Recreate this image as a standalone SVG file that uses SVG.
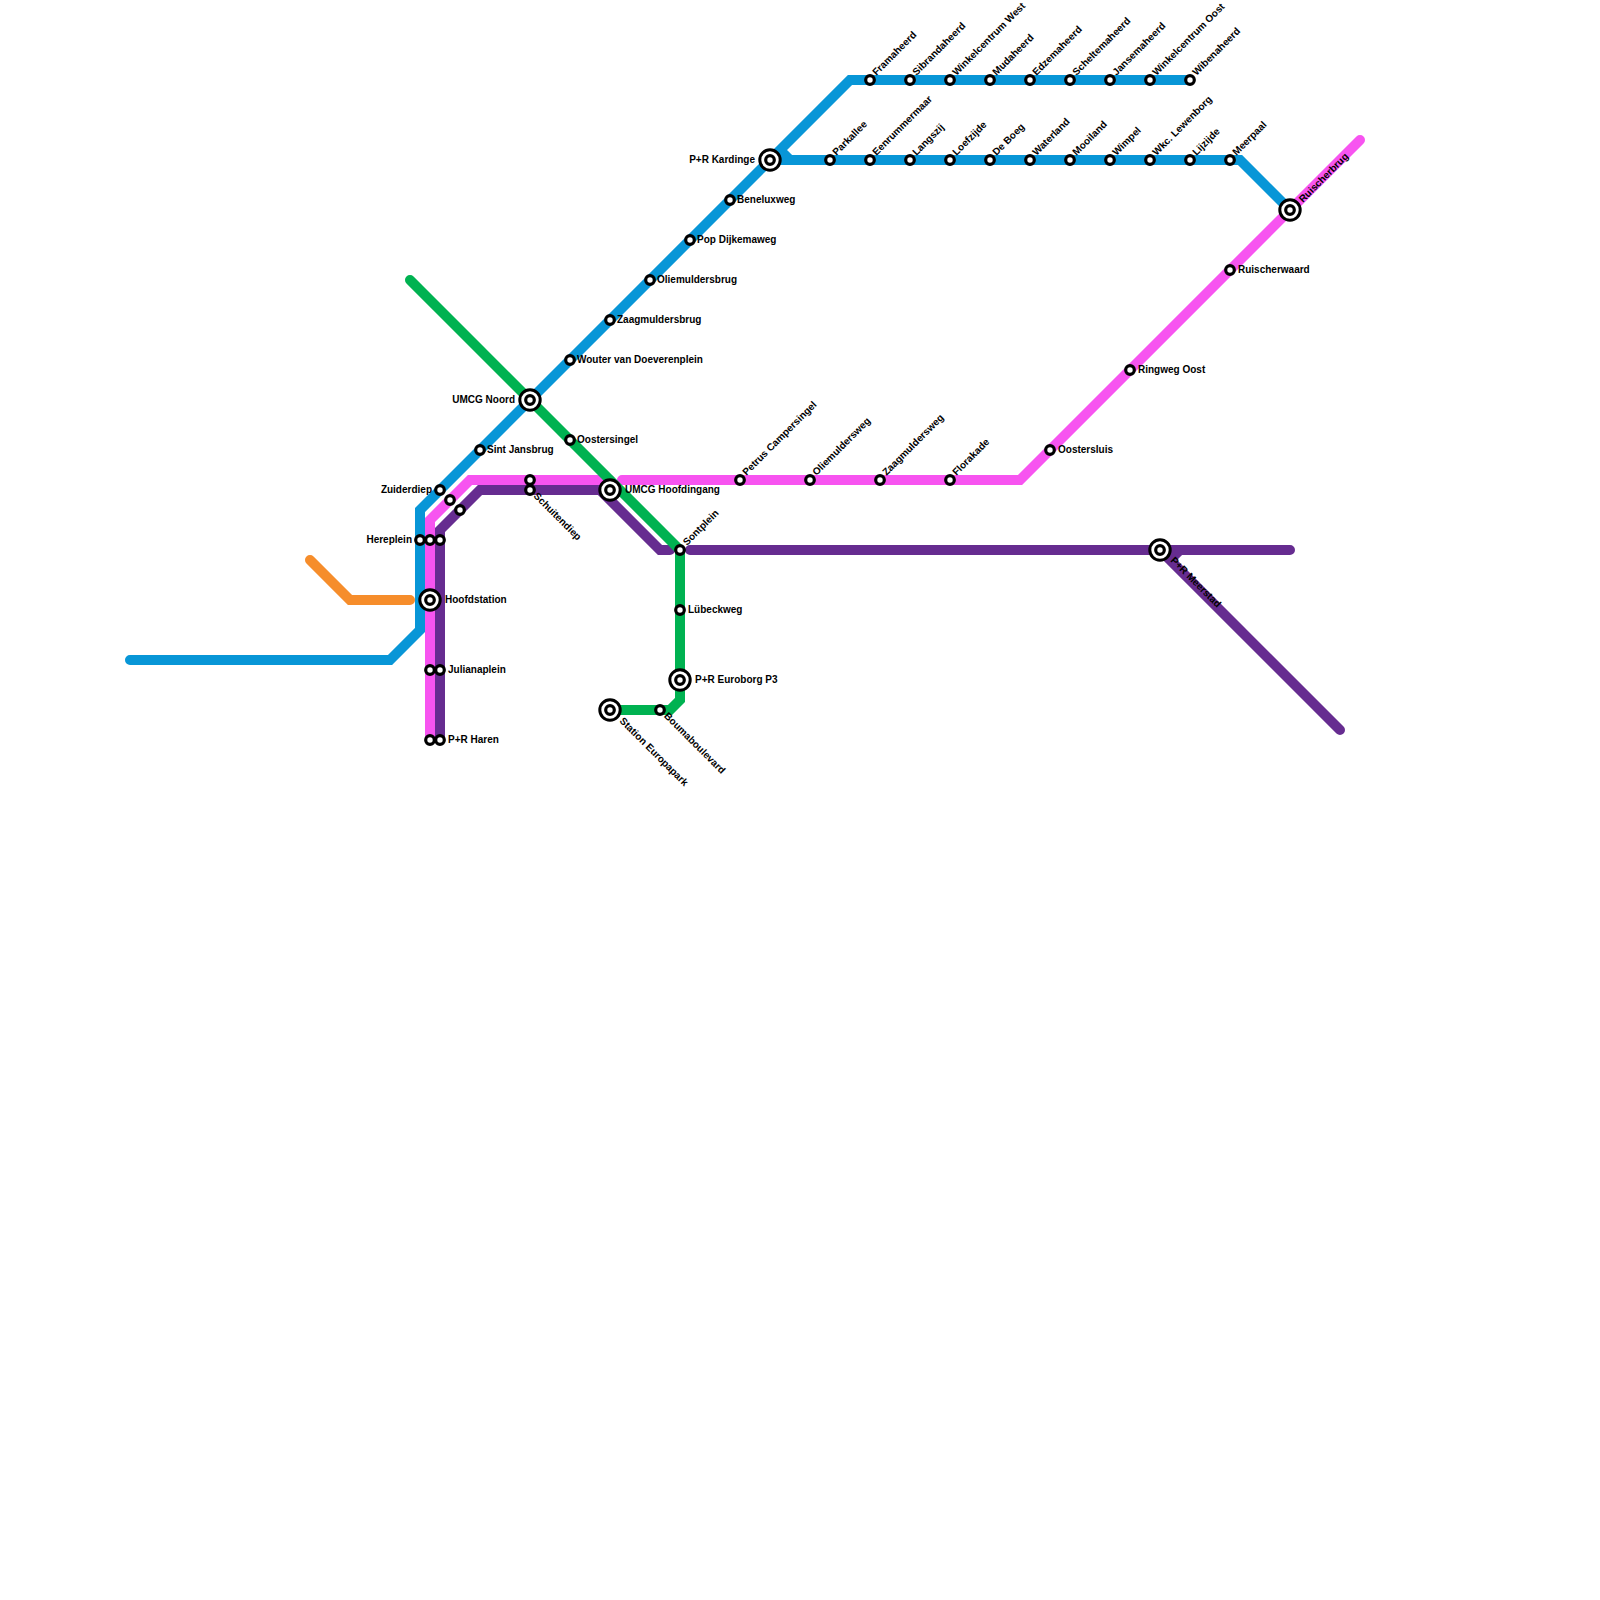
<svg xmlns="http://www.w3.org/2000/svg" width="1600" height="1600" viewBox="0 0 1600 1600">
<style>
text{font-family:"Liberation Sans",Arial,sans-serif;font-size:10px;font-weight:bold;fill:#000}
.e{text-anchor:end}
.l{fill:none;stroke-width:10;stroke-linecap:round;stroke-linejoin:miter}
.o{fill:#fff;stroke:#000}
</style>
<defs>
<g id="s"><circle class="o" r="4.3" stroke-width="3.2"/></g>
<g id="b"><circle class="o" r="10.2" stroke-width="3"/><circle class="o" r="4.3" stroke-width="3.2"/></g>
</defs>
<rect width="1600" height="1600" fill="#fff"/>
<g id="connectors">
<path class="l" stroke="#f68d2b" d="M310 560L350 600H410"/>
<path class="l" stroke="#f754f0" d="M430 740V520L470 480H610M622 480H1020L1360 140"/>
<path class="l" stroke="#662c90" d="M440 740V530L480 490H600L660 550H670M690 550H1290M1340 730L1170 560L1180 550"/>
<path class="l" stroke="#00b251" d="M410 280L680 550V700L670 710H610"/>
<path class="l" stroke="#0896d7" d="M130 660H390L420 630V510L770 160L850 80H1190M790 160L780 150M770 160H1240L1290 210"/>
</g>
<g id="n1"><use href="#b" x="770" y="160"/><text class="e" x="755" y="162.6">P+R Kardinge</text></g>
<g id="n2"><use href="#s" x="730" y="200"/><text x="737" y="202.6">Beneluxweg</text></g>
<g id="n3"><use href="#s" x="690" y="240"/><text x="697" y="242.6">Pop Dijkemaweg</text></g>
<g id="n4"><use href="#s" x="650" y="280"/><text x="657" y="282.6">Oliemuldersbrug</text></g>
<g id="n5"><use href="#s" x="610" y="320"/><text x="617" y="322.6">Zaagmuldersbrug</text></g>
<g id="n6"><use href="#s" x="570" y="360"/><text x="577" y="362.6">Wouter van Doeverenplein</text></g>
<g id="n7"><use href="#b" x="530" y="400"/><text class="e" x="515" y="402.6">UMCG Noord</text></g>
<g id="n8"><use href="#s" x="570" y="440"/><text x="577" y="442.6">Oostersingel</text></g>
<g id="n9"><use href="#s" x="480" y="450"/><text x="487" y="452.6">Sint Jansbrug</text></g>
<g id="n10"><use href="#s" x="440" y="490"/><text class="e" x="432" y="492.6">Zuiderdiep</text></g>
<g id="n11"><use href="#s" x="450" y="500"/></g>
<g id="n12"><use href="#s" x="460" y="510"/></g>
<g id="n13"><use href="#s" x="420" y="540"/><use href="#s" x="430" y="540"/><use href="#s" x="440" y="540"/><text class="e" x="412" y="542.6">Hereplein</text></g>
<g id="n14"><use href="#b" x="430" y="600"/><text x="445" y="602.6">Hoofdstation</text></g>
<g id="n15"><use href="#s" x="430" y="670"/><use href="#s" x="440" y="670"/><text x="448" y="672.6">Julianaplein</text></g>
<g id="n16"><use href="#s" x="430" y="740"/><use href="#s" x="440" y="740"/><text x="448" y="742.6">P+R Haren</text></g>
<g id="n17"><use href="#s" x="530" y="480"/><use href="#s" x="530" y="490"/><text transform="translate(533 496.5) rotate(45)">Schuitendiep</text></g>
<g id="n18"><use href="#b" x="610" y="490"/><text x="625" y="492.6">UMCG Hoofdingang</text></g>
<g id="n19"><use href="#s" x="680" y="550"/><text transform="translate(687 546) rotate(-45)">Sontplein</text></g>
<g id="n20"><use href="#s" x="680" y="610"/><text x="688" y="612.6">Lübeckweg</text></g>
<g id="n21"><use href="#b" x="680" y="680"/><text x="695" y="682.6">P+R Euroborg P3</text></g>
<g id="n22"><use href="#s" x="660" y="710"/><text transform="translate(663.5 716.5) rotate(45)">Boumaboulevard</text></g>
<g id="n23"><use href="#b" x="610" y="710"/><text transform="translate(619 721.5) rotate(45)">Station Europapark</text></g>
<g id="n24"><use href="#s" x="740" y="480"/><text transform="translate(746.5 476) rotate(-45)">Petrus Campersingel</text></g>
<g id="n25"><use href="#s" x="810" y="480"/><text transform="translate(816.5 476) rotate(-45)">Oliemuldersweg</text></g>
<g id="n26"><use href="#s" x="880" y="480"/><text transform="translate(886.5 476) rotate(-45)">Zaagmuldersweg</text></g>
<g id="n27"><use href="#s" x="950" y="480"/><text transform="translate(956.5 476) rotate(-45)">Florakade</text></g>
<g id="n28"><use href="#s" x="1050" y="450"/><text x="1058" y="452.6">Oostersluis</text></g>
<g id="n29"><use href="#s" x="1130" y="370"/><text x="1138" y="372.6">Ringweg Oost</text></g>
<g id="n30"><use href="#s" x="1230" y="270"/><text x="1238" y="272.6">Ruischerwaard</text></g>
<g id="n31"><use href="#b" x="1290" y="210"/><text transform="translate(1303 203) rotate(-45)">Ruischerbrug</text></g>
<g id="n32"><use href="#b" x="1160" y="550"/><text transform="translate(1170 561) rotate(45)">P+R Meerstad</text></g>
<g id="n33"><use href="#s" x="830" y="160"/><text transform="translate(836.5 156) rotate(-45)">Parkallee</text></g>
<g id="n34"><use href="#s" x="870" y="160"/><text transform="translate(876.5 156) rotate(-45)">Eenrummermaar</text></g>
<g id="n35"><use href="#s" x="910" y="160"/><text transform="translate(916.5 156) rotate(-45)">Langszij</text></g>
<g id="n36"><use href="#s" x="950" y="160"/><text transform="translate(956.5 156) rotate(-45)">Loefzijde</text></g>
<g id="n37"><use href="#s" x="990" y="160"/><text transform="translate(996.5 156) rotate(-45)">De Boeg</text></g>
<g id="n38"><use href="#s" x="1030" y="160"/><text transform="translate(1036.5 156) rotate(-45)">Waterland</text></g>
<g id="n39"><use href="#s" x="1070" y="160"/><text transform="translate(1076.5 156) rotate(-45)">Mooiland</text></g>
<g id="n40"><use href="#s" x="1110" y="160"/><text transform="translate(1116.5 156) rotate(-45)">Wimpel</text></g>
<g id="n41"><use href="#s" x="1150" y="160"/><text transform="translate(1156.5 156) rotate(-45)">Wkc. Lewenborg</text></g>
<g id="n42"><use href="#s" x="1190" y="160"/><text transform="translate(1196.5 156) rotate(-45)">Lijzijde</text></g>
<g id="n43"><use href="#s" x="1230" y="160"/><text transform="translate(1236.5 156) rotate(-45)">Meerpaal</text></g>
<g id="n44"><use href="#s" x="870" y="80"/><text transform="translate(876.5 76) rotate(-45)">Framaheerd</text></g>
<g id="n45"><use href="#s" x="910" y="80"/><text transform="translate(916.5 76) rotate(-45)">Sibrandaheerd</text></g>
<g id="n46"><use href="#s" x="950" y="80"/><text transform="translate(956.5 76) rotate(-45)">Winkelcentrum West</text></g>
<g id="n47"><use href="#s" x="990" y="80"/><text transform="translate(996.5 76) rotate(-45)">Mudaheerd</text></g>
<g id="n48"><use href="#s" x="1030" y="80"/><text transform="translate(1036.5 76) rotate(-45)">Edzemaheerd</text></g>
<g id="n49"><use href="#s" x="1070" y="80"/><text transform="translate(1076.5 76) rotate(-45)">Scheltemaheerd</text></g>
<g id="n50"><use href="#s" x="1110" y="80"/><text transform="translate(1116.5 76) rotate(-45)">Jansemaheerd</text></g>
<g id="n51"><use href="#s" x="1150" y="80"/><text transform="translate(1156.5 76) rotate(-45)">Winkelcentrum Oost</text></g>
<g id="n52"><use href="#s" x="1190" y="80"/><text transform="translate(1196.5 76) rotate(-45)">Wibenaheerd</text></g>
</svg>
